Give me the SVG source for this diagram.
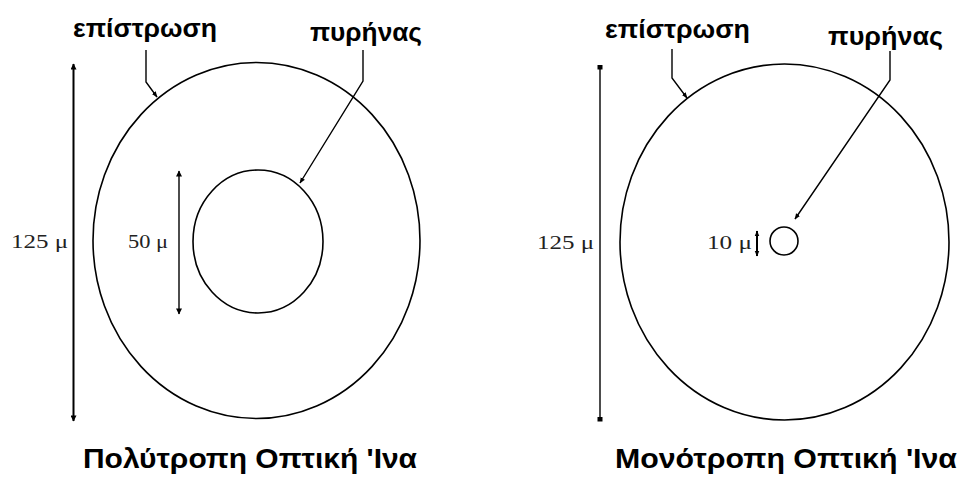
<svg xmlns="http://www.w3.org/2000/svg" width="961" height="478" viewBox="0 0 961 478">
<style>
.ring{fill:none;stroke:#000;stroke-width:1.6}
.ln{fill:none;stroke:#000;stroke-width:1.4}
.dim{fill:none;stroke:#000;stroke-width:2}
.lbl{font-family:"Liberation Sans","DejaVu Sans",sans-serif;font-weight:bold;font-size:25px;fill:#000}
.ttl{font-family:"Liberation Sans","DejaVu Sans",sans-serif;font-weight:bold;font-size:28px;fill:#000}
.mes{font-family:"Liberation Serif","DejaVu Serif",serif;font-size:19px;fill:#222}
</style>
<defs>
<marker id="ah" viewBox="0 0 10 10" refX="9" refY="5" markerWidth="6" markerHeight="6" markerUnits="userSpaceOnUse" orient="auto-start-reverse">
<path d="M0,1 L10,5 L0,9 Z" fill="#000"/>
</marker>
<marker id="ahd" viewBox="0 0 10 10" refX="9" refY="5" markerWidth="9" markerHeight="6" markerUnits="userSpaceOnUse" orient="auto-start-reverse">
<path d="M0,0 L10,5 L0,10 Z" fill="#000"/>
</marker>
<marker id="sq" viewBox="0 0 10 10" refX="5" refY="5" markerWidth="5" markerHeight="8" markerUnits="userSpaceOnUse" orient="auto">
<rect x="0" y="0" width="10" height="10" fill="#000"/>
</marker>
</defs>

<g id="multimode">
<g id="mm-cladding"><ellipse class="ring" cx="256.5" cy="240.5" rx="163.5" ry="178"/></g>
<g id="mm-core"><ellipse class="ring" cx="258" cy="241.5" rx="65" ry="71.5"/></g>
<g id="mm-dim125">
<text class="mes" x="11" y="248" textLength="57" lengthAdjust="spacingAndGlyphs">125 μ</text>
</g>
<g id="mm-dim50">
<text class="mes" x="128" y="248" textLength="40" lengthAdjust="spacingAndGlyphs">50 μ</text>
</g>
<g id="mm-label-cladding"><text class="lbl" x="73" y="37" textLength="144" lengthAdjust="spacingAndGlyphs">επίστρωση</text></g>
<g id="mm-label-core"><text class="lbl" x="310" y="41" textLength="112" lengthAdjust="spacingAndGlyphs">πυρήνας</text></g>
<g id="mm-title"><text class="ttl" x="83" y="468" textLength="334" lengthAdjust="spacingAndGlyphs">Πολύτροπη Οπτική 'Ινα</text></g>
</g>

<g id="singlemode">
<g id="sm-cladding"><ellipse class="ring" cx="784.5" cy="242" rx="164.5" ry="178"/></g>
<g id="sm-core"><circle class="ring" cx="784" cy="241" r="14"/></g>
<g id="sm-dim125">
<text class="mes" x="537" y="249" textLength="57" lengthAdjust="spacingAndGlyphs">125 μ</text>
</g>
<g id="sm-dim10">
<text class="mes" x="707" y="249" textLength="45" lengthAdjust="spacingAndGlyphs">10 μ</text>
</g>
<g id="sm-label-cladding"><text class="lbl" x="605" y="38" textLength="145" lengthAdjust="spacingAndGlyphs">επίστρωση</text></g>
<g id="sm-label-core"><text class="lbl" x="828" y="45" textLength="115" lengthAdjust="spacingAndGlyphs">πυρήνας</text></g>
<g id="sm-title"><text class="ttl" x="615" y="468" textLength="342" lengthAdjust="spacingAndGlyphs">Μονότροπη Οπτική 'Ινα</text></g>
</g>

<g id="connectors">
<line class="dim" x1="73.5" y1="64" x2="73.5" y2="421" marker-start="url(#ahd)" marker-end="url(#ahd)"/>
<line class="ln" x1="179" y1="171" x2="179" y2="314" marker-start="url(#ahd)" marker-end="url(#ahd)"/>
<polyline class="ln" points="146,50 146,82 157,97" marker-end="url(#ah)"/>
<polyline class="ln" points="363,50 363,81 300,183" marker-end="url(#ah)"/>
<line class="ln" x1="600" y1="67" x2="600" y2="419" marker-start="url(#sq)" marker-end="url(#sq)"/>
<line class="dim" x1="757" y1="231" x2="757" y2="256" marker-start="url(#ah)" marker-end="url(#ah)"/>
<polyline class="ln" points="672,49 672,78 687,98" marker-end="url(#ah)"/>
<polyline class="ln" points="890,51 890,80 795,219" marker-end="url(#ah)"/>
</g>
</svg>
